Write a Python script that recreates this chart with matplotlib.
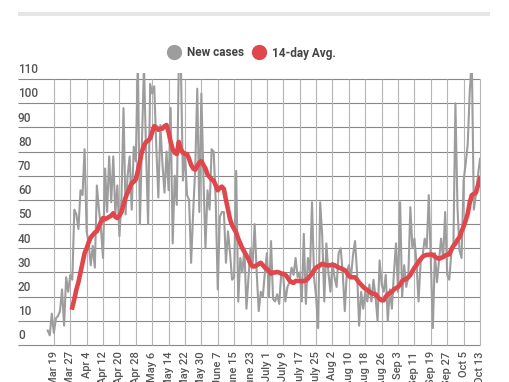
import matplotlib
matplotlib.use('Agg')
import matplotlib.pyplot as plt
from matplotlib.lines import Line2D
from matplotlib.patches import Rectangle
import pandas as pd

# Daily new cases, starting Mar 16
new_cases = [6, 4, 13, 5, 11, 12, 14, 23, 8, 28, 22, 29, 27,
             56, 54, 48, 64, 62, 81, 47, 42, 33, 41,
             32, 66, 56, 48, 36, 73, 55, 78, 59, 78,
             54, 66, 45, 60, 98, 54, 70, 78, 56, 82,
             76, 118, 50, 84, 116, 80, 50, 108, 104, 107,
             82, 61, 91, 75, 63, 80, 64, 98, 42, 70,
             58, 118, 116, 68, 80, 62, 60, 34, 55, 73,
             106, 55, 104, 70, 40, 64, 56, 81, 80, 60,
             23, 53, 55, 55, 34, 47, 38, 27, 28, 72,
             18, 36, 30, 40, 15, 28, 40, 33, 50, 30,
             14, 22, 20, 30, 38, 20, 43, 19, 18, 21,
             17, 30, 28, 18, 24, 26, 32, 29, 36, 28,
             30, 18, 46, 17, 36, 30, 59, 28, 20, 7,
             59, 45, 18, 42, 30, 22, 34, 28, 24, 38,
             40, 30, 14, 30, 33, 28, 37, 43, 30, 8,
             22, 15, 22, 18, 25, 18, 27, 20, 10, 35,
             25, 22, 29, 10, 23, 15, 30, 42, 22, 59,
             20, 33, 24, 28, 57, 40, 44, 34, 18, 34,
             37, 44, 40, 62, 34, 7, 38, 26, 35, 44,
             36, 55, 29, 27, 38, 40, 100, 57, 39, 36,
             68, 75, 83, 105, 118, 56, 62, 70, 77]

# 14-day average, starting Mar 28
avg_14 = [15.5,
          19, 23, 26, 30, 34, 38, 40, 42.5, 44.5, 45.5,
          46.5, 47, 49, 51, 52.5, 52, 52.5, 53, 53.5, 54.5,
          53, 52.5, 53.5, 55, 58, 61, 63, 65, 67, 67.5,
          68.5, 72, 76, 80, 82.5, 84, 84.5, 85.5, 88, 90.5,
          90, 89, 89.5, 89.5, 90.5, 91, 88, 84, 81, 79.5,
          79, 84, 81, 79.5, 79, 79, 77, 74.5, 73, 72.5,
          74, 75.5, 76, 74.5, 73, 70.5, 69.5, 68.5, 68, 66,
          64, 65, 65.5, 64.5, 60, 56, 52, 49.5, 48, 46.5,
          44, 42, 40, 38.5, 37, 35.5, 33.5, 32.5, 32.5, 33,
          33.5, 34, 33, 32, 31.5, 30.5, 29.5, 30, 30, 30.2,
          30, 29.5, 29.5, 29, 28, 26.7, 26, 25.7, 26.5, 26.5,
          26.5, 26.3, 26.5, 26.7, 27.5, 28.5, 29.5, 31, 32, 32.5,
          33, 33.6, 33.3, 33, 32.9, 33, 33.2, 33, 32.5, 32,
          31.8, 31.3, 31, 30, 28.5, 28, 28, 28, 27, 25.8,
          25, 24, 23.3, 22.7, 22, 21.5, 21.2, 21, 20, 19,
          18.5, 18.5, 20, 21, 21.5, 22, 23, 23.5, 24, 25,
          26.5, 27, 27.3, 28, 29, 30.5, 32, 33, 34.5, 35.5,
          36.5, 37, 37.3, 37.3, 37.5, 37.3, 36.5, 36, 35.7, 36,
          36.4, 37, 37.3, 37.5, 39.5, 41, 42, 43.5, 44.6, 47,
          49, 51.5, 54.3, 59, 62, 62.5, 63, 66, 69]

tick_labels = ['Mar 19', 'Mar 27', 'Apr 4', 'Apr 12', 'Apr 20', 'Apr 28',
               'May 6', 'May 14', 'May 22', 'May 30', 'June 7', 'June 15',
               'June 23', 'July 1', 'July 9', 'July 17', 'July 25', 'Aug 2',
               'Aug 10', 'Aug 18', 'Aug 26', 'Sep 3', 'Sep 11', 'Sep 19',
               'Sep 27', 'Oct 5', 'Oct 13']
y_ticks = list(range(0, 111, 10))

dates_new = pd.date_range('2020-03-16', periods=len(new_cases))
dates_avg = pd.date_range('2020-03-28', periods=len(avg_14))
tick_dates = pd.date_range('2020-03-19', periods=len(tick_labels), freq='8D')

plt.rcParams['font.family'] = ['Roboto', 'DejaVu Sans']

fig = plt.figure(figsize=(5.1, 3.82), dpi=100)
ax = fig.add_axes([18 / 510, 37 / 382, 462 / 510, 272 / 382])

x_left = tick_dates[0] - pd.Timedelta(days=17.5)
x_right = tick_dates[-1]
ax.set_xlim(x_left, x_right)
ax.set_ylim(0, 112.5)

# grid (drawn by hand: the vertical lines only start at the first tick)
ax.hlines(y_ticks, x_left, x_right, colors='#888888', lw=0.8, zorder=1, clip_on=False)
ax.vlines(tick_dates, 0, 110, colors='#b5b5b5', lw=0.8, zorder=1, clip_on=False)

ax.plot(dates_new, new_cases, color='#9d9d9d', lw=1.5, zorder=2)
ax.plot(dates_avg, avg_14, color='#e0474c', lw=3.3, zorder=3)

# y labels sit above their gridline, left aligned
for v in y_ticks:
    ax.annotate(str(v), xy=(0, v), xycoords=ax.get_yaxis_transform(),
                xytext=(0, 2), textcoords='offset points', ha='left', va='bottom',
                fontsize=8.5, fontweight='medium', color='#555555')

ax.set_yticks([])
ax.set_xticks(tick_dates)
ax.set_xticklabels(tick_labels, rotation=90, fontsize=8, fontweight='medium', color='#555555')
ax.tick_params(axis='x', length=0, pad=4.5)
for s in ax.spines.values():
    s.set_visible(False)

# legend
handles = [Line2D([], [], ls='none', marker='o', markersize=11, markeredgewidth=0,
                  markerfacecolor='#9d9d9d'),
           Line2D([], [], ls='none', marker='o', markersize=11, markeredgewidth=0,
                  markerfacecolor='#e0474c')]
fig.legend(handles, ['New cases', '14-day Avg.'], loc='center', ncol=2,
           bbox_to_anchor=(252 / 510, 1 - 53 / 382), frameon=False,
           handlelength=1.0, handletextpad=0.6, columnspacing=0.8,
           prop={'size': 8.5, 'weight': 'bold'}, labelcolor='#444444')

# grey header rule
fig.add_artist(Rectangle((18 / 510, 1 - 16 / 382), 472 / 510, 4 / 382,
                         transform=fig.transFigure, color='#e6e6e6', lw=0))

fig.savefig('out.png', dpi=100)
